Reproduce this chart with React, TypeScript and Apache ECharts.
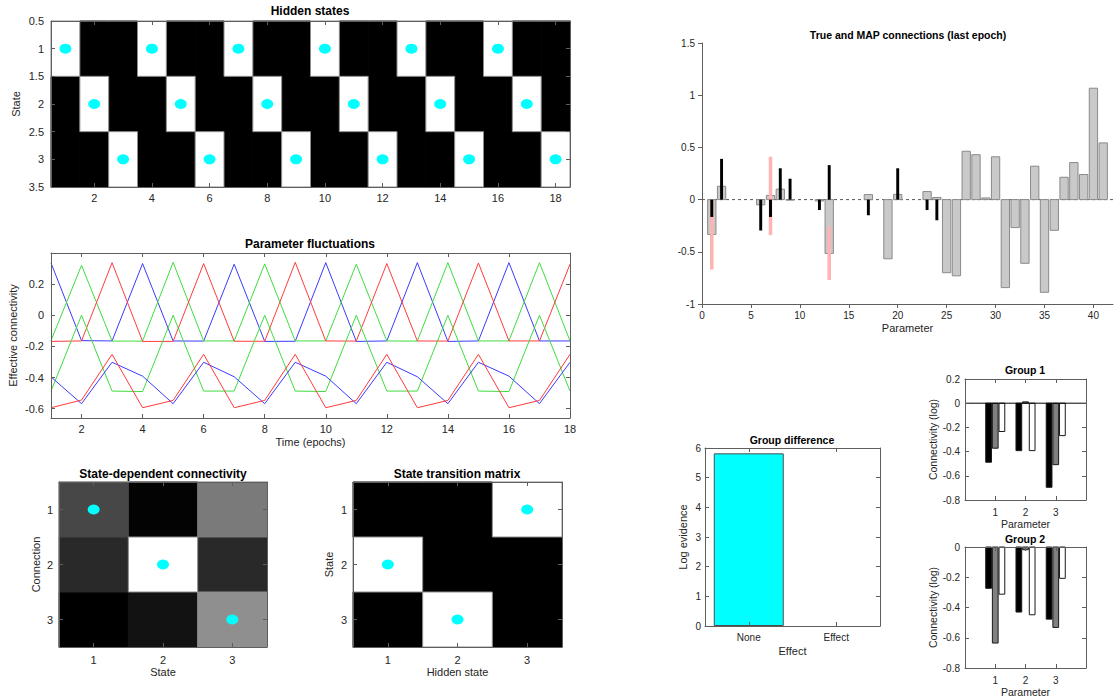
import React, { useEffect, useRef } from 'react';
import * as echarts from 'echarts';

const FONT = '"Liberation Sans", Arial, Helvetica, sans-serif';
const AXIS = '#5e5e5e';
const TXT = '#262626';

// ---------- Hidden states ----------
const epochs = [1, 2, 3, 4, 5, 6, 7, 8, 9, 10, 11, 12, 13, 14, 15, 16, 17, 18];
const hiddenState = [1, 2, 3, 1, 2, 3, 1, 2, 3, 1, 2, 3, 1, 2, 3, 1, 2, 3];
const stateTicks = [1, 2, 3];
const epochTicks = [2, 4, 6, 8, 10, 12, 14, 16, 18];

// ---------- Parameter fluctuations ----------
const upperBlue = [0.336, -0.163, -0.165, 0.332, -0.165, -0.166, 0.328, -0.168, -0.167, 0.338, -0.168, -0.165, 0.338, -0.168, -0.165, 0.338, -0.165, -0.165];
const upperGreen = [-0.163, 0.321, -0.166, -0.166, 0.34, -0.165, -0.165, 0.33, -0.165, -0.165, 0.328, -0.165, -0.166, 0.338, -0.165, -0.165, 0.338, -0.165];
const upperRed = [-0.168, -0.165, 0.338, -0.168, -0.168, 0.332, -0.167, -0.167, 0.34, -0.165, -0.166, 0.332, -0.165, -0.166, 0.336, -0.165, -0.165, 0.328];
const lowerRed = [-0.594, -0.545, -0.251, -0.594, -0.547, -0.251, -0.594, -0.547, -0.251, -0.594, -0.547, -0.251, -0.594, -0.547, -0.251, -0.594, -0.547, -0.251];
const lowerBlue = [-0.396, -0.568, -0.302, -0.391, -0.568, -0.302, -0.395, -0.568, -0.302, -0.391, -0.568, -0.302, -0.395, -0.568, -0.302, -0.391, -0.568, -0.302];
const lowerGreen = [-0.487, 0.0, -0.487, -0.49, 0.0, -0.487, -0.487, 0.0, -0.487, -0.49, 0.0, -0.487, -0.487, 0.0, -0.487, -0.49, 0.0, -0.487];
const fluctTicks = [-0.6, -0.4, -0.2, 0, 0.2];

// ---------- State-dependent connectivity (rows: connection, cols: state), grey level 0..1 ----------
const stateConnectivity = [
  [0.28, 0.01, 0.48],
  [0.16, 1.0, 0.16],
  [0.0, 0.07, 0.56],
];
const connectivityDots = [[1, 1], [2, 2], [3, 3]]; // [state, connection]

// ---------- State transition matrix (rows: state, cols: hidden state) ----------
const transitionMatrix = [
  [0, 0, 1],
  [1, 0, 0],
  [0, 1, 0],
];

// ---------- True and MAP connections ----------
const parameters = Array.from({ length: 41 }, (_, i) => i + 1);
const mapEstimates = [
  -0.334, 0.128, 0, 0, 0, -0.05, 0.04, 0.1, -0.005, 0,
  0, -0.013, -0.516, 0, 0, 0, 0.048, 0, -0.567, 0.05,
  0, 0, 0.077, 0.02, -0.7, -0.73, 0.463, 0.43, 0.016, 0.41,
  -0.843, -0.268, -0.61, 0.32, -0.888, -0.294, 0.214, 0.355, 0.24, 1.067,
  0.543,
];
const trueValues = [
  -0.166, 0.39, 0, 0, 0, -0.296, -0.166, 0.3, 0.2, 0,
  0, -0.1, 0.33, 0, 0, 0, -0.15, 0, 0, 0.3,
  0, 0, -0.1, -0.198, 0, 0, 0, 0, 0, 0,
  0, 0, 0, 0, 0, 0, 0, 0, 0, 0,
  0,
];
const ciParams = [1, 7, 13];
const ciLower = [-0.67, -0.34, -0.77];
const ciUpper = [0.0, 0.41, -0.255];
const mapXTicks = [0, 5, 10, 15, 20, 25, 30, 35, 40];

// ---------- Group difference ----------
const effectCategories = ['None', 'Effect'];
const logEvidence = [5.82, 0];

// ---------- Groups ----------
const groupParams = [1, 2, 3];
const group1Black = [-0.488, -0.392, -0.695];
const group1Gray = [-0.372, 0.011, -0.508];
const group1White = [-0.234, -0.392, -0.268];
const group2Black = [-0.273, -0.43, -0.477];
const group2Gray = [-0.635, -0.018, -0.532];
const group2White = [-0.312, -0.448, -0.207];

function rectFrom(api: any, x0: number, y0: number, x1: number, y1: number) {
  const a = api.coord([x0, y0]);
  const b = api.coord([x1, y1]);
  return {
    x: Math.min(a[0], b[0]),
    y: Math.min(a[1], b[1]),
    width: Math.abs(b[0] - a[0]),
    height: Math.abs(b[1] - a[1]),
  };
}

function buildOption() {
  const grids: any[] = [];
  const xAxes: any[] = [];
  const yAxes: any[] = [];
  const series: any[] = [];

  function makeAxis(c: any, gridIndex: number, position: string, mirror: boolean, o: any) {
    const a: any = {
      gridIndex,
      position,
      type: c.type || 'value',
      z: 10,
      inverse: !!c.inverse,
      splitLine: { show: false },
      axisLine: { show: true, onZero: false, lineStyle: { color: AXIS, width: 1 } },
      axisTick: { show: true, inside: !o.outward, length: 4, lineStyle: { color: AXIS } },
      axisLabel: {
        show: !mirror,
        color: TXT,
        fontFamily: FONT,
        fontSize: o.fontSize,
        margin: c.margin ?? 6,
      },
    };
    if (c.min !== undefined) a.min = c.min;
    if (c.max !== undefined) a.max = c.max;
    if (c.type === 'category') {
      a.data = c.data;
      a.axisTick.alignWithLabel = true;
    }
    if (c.interval !== undefined) a.interval = c.interval;
    if (c.ticks) {
      a.axisTick.customValues = c.ticks;
      a.axisLabel.customValues = c.ticks;
    }
    if (!mirror && c.name) {
      a.name = c.name;
      a.nameLocation = 'middle';
      a.nameGap = c.nameGap;
      a.nameTextStyle = { fontFamily: FONT, fontSize: o.nameSize || o.fontSize, color: TXT };
    }
    return a;
  }

  function addPanel(box: number[], xc: any, yc: any, o: any) {
    const gi = grids.length;
    grids.push({
      left: box[0], top: box[1], width: box[2], height: box[3],
      containLabel: false, outerBoundsMode: 'none', show: false,
    });
    const xi = xAxes.length;
    xAxes.push(makeAxis(xc, gi, 'bottom', false, o));
    const yi = yAxes.length;
    yAxes.push(makeAxis(yc, gi, 'left', false, o));
    if (o.box) {
      xAxes.push(makeAxis(xc, gi, 'top', true, o));
      yAxes.push(makeAxis(yc, gi, 'right', true, o));
    }
    return [xi, yi];
  }

  function cellSeries(xi: number, yi: number, data: number[][]) {
    const sorted = data.slice().sort((a, b) => a[2] - b[2]);
    return {
      type: 'custom', xAxisIndex: xi, yAxisIndex: yi, data: sorted, z: 2, silent: true,
      renderItem: (_p: any, api: any) => {
        const x = api.value(0), y = api.value(1), v = api.value(2);
        const g = Math.round(v * 255);
        const fill = `rgb(${g},${g},${g})`;
        return {
          type: 'rect',
          shape: rectFrom(api, x - 0.5, y - 0.5, x + 0.5, y + 0.5),
          style: { fill, stroke: v > 0.7 ? '#8c8c8c' : fill, lineWidth: 1 },
        };
      },
    };
  }

  function dotSeries(xi: number, yi: number, data: number[][]) {
    return {
      type: 'scatter', xAxisIndex: xi, yAxisIndex: yi, data, z: 5, silent: true,
      symbol: 'circle', symbolSize: [12, 10],
      itemStyle: { color: '#00ffff', opacity: 1 },
    };
  }

  function barSeries(xi: number, yi: number, data: number[][], width: number, offset: number, fill: string, stroke: string | null, z: number) {
    return {
      type: 'custom', xAxisIndex: xi, yAxisIndex: yi, data, z, silent: true,
      renderItem: (_p: any, api: any) => {
        const x = api.value(0) + offset, lo = api.value(1), hi = api.value(2);
        if (lo === hi) return { type: 'group', children: [] };
        return {
          type: 'rect',
          shape: rectFrom(api, x - width / 2, lo, x + width / 2, hi),
          style: { fill, stroke: stroke || 'none', lineWidth: 1 },
        };
      },
    };
  }

  // Panel A: Hidden states
  {
    const [xi, yi] = addPanel([51, 21, 519, 166],
      { min: 0.5, max: 18.5, ticks: epochTicks, margin: 5 },
      { min: 0.5, max: 3.5, interval: 0.5, inverse: true, name: 'State', nameGap: 30, margin: 7 },
      { box: true, fontSize: 11 });
    const cells: number[][] = [];
    epochs.forEach((t, i) => stateTicks.forEach((k) => cells.push([t, k, hiddenState[i] === k ? 1 : 0])));
    series.push(cellSeries(xi, yi, cells));
    series.push(dotSeries(xi, yi, epochs.map((t, i) => [t, hiddenState[i]])));
  }

  // Panel B: Parameter fluctuations
  {
    const [xi, yi] = addPanel([51, 253, 519, 165],
      { min: 1, max: 18, ticks: epochTicks, name: 'Time (epochs)', nameGap: 18, margin: 5 },
      { min: -0.66, max: 0.4, ticks: fluctTicks, name: 'Effective connectivity', nameGap: 33, margin: 7 },
      { box: true, fontSize: 11 });
    const lines: [number[], string][] = [
      [upperBlue, '#3b3bff'], [upperGreen, '#3fdc3f'], [upperRed, '#ff3b3b'],
      [lowerGreen, '#3fdc3f'], [lowerBlue, '#3b3bff'], [lowerRed, '#ff3b3b'],
    ];
    lines.forEach(([arr, color]) => {
      series.push({
        type: 'line', xAxisIndex: xi, yAxisIndex: yi, silent: true,
        data: epochs.map((t, i) => [t, arr[i]]),
        symbol: 'none', showSymbol: false,
        lineStyle: { color, width: 1 }, z: 3,
      });
    });
  }

  // Panel C: State-dependent connectivity
  {
    const [xi, yi] = addPanel([59, 482, 208, 165],
      { min: 0.5, max: 3.5, ticks: stateTicks, name: 'State', nameGap: 19, margin: 7 },
      { min: 0.5, max: 3.5, ticks: stateTicks, inverse: true, name: 'Connection', nameGap: 18, margin: 6 },
      { box: true, fontSize: 11 });
    const cells: number[][] = [];
    stateConnectivity.forEach((row, r) => row.forEach((v, c) => cells.push([c + 1, r + 1, v])));
    series.push(cellSeries(xi, yi, cells));
    series.push(dotSeries(xi, yi, connectivityDots));
  }

  // Panel D: State transition matrix
  {
    const [xi, yi] = addPanel([353, 482, 209, 165],
      { min: 0.5, max: 3.5, ticks: stateTicks, name: 'Hidden state', nameGap: 19, margin: 7 },
      { min: 0.5, max: 3.5, ticks: stateTicks, inverse: true, name: 'State', nameGap: 19, margin: 6 },
      { box: true, fontSize: 11 });
    const cells: number[][] = [];
    const dots: number[][] = [];
    transitionMatrix.forEach((row, r) => row.forEach((v, c) => {
      cells.push([c + 1, r + 1, v]);
      if (v > 0.5) dots.push([c + 1, r + 1]);
    }));
    series.push(cellSeries(xi, yi, cells));
    series.push(dotSeries(xi, yi, dots));
  }

  // Panel E: True and MAP connections
  {
    const [xi, yi] = addPanel([702, 43, 411, 261],
      { min: 0, max: 42, ticks: mapXTicks, name: 'Parameter', nameGap: 18, margin: 6 },
      { min: -1, max: 1.5, interval: 0.5, margin: 7 },
      { box: false, outward: true, fontSize: 10, nameSize: 11 });
    series.push({
      type: 'line', xAxisIndex: xi, yAxisIndex: yi, silent: true,
      data: [[0, 0], [42, 0]], symbol: 'none',
      lineStyle: { color: '#555', width: 1, type: [3, 3] }, z: 1,
    });
    series.push(barSeries(xi, yi, parameters.map((p, i) => [p, 0, mapEstimates[i]]), 0.85, 0, '#c9c9c9', '#8a8a8a', 2));
    series.push(barSeries(xi, yi, ciParams.map((p, i) => [p, ciLower[i], ciUpper[i]]), 0.36, 0, '#ffb3b3', null, 3));
    series.push(barSeries(xi, yi, parameters.map((p, i) => [p, 0, trueValues[i]]), 0.3, 0, '#000000', null, 4));
  }

  // Panel F: Group difference
  {
    const [xi, yi] = addPanel([705, 448, 175, 178],
      { type: 'category', data: effectCategories, name: 'Effect', nameGap: 19, margin: 6 },
      { min: 0, max: 6, interval: 1, name: 'Log evidence', nameGap: 17, margin: 4 },
      { box: true, fontSize: 10, nameSize: 11 });
    series.push({
      type: 'bar', xAxisIndex: xi, yAxisIndex: yi, silent: true,
      data: logEvidence.map((v) => (v === 0 ? '-' : v)), barWidth: '80%',
      itemStyle: { color: '#00ffff', borderColor: '#4d4d4d', borderWidth: 1 }, z: 2,
    });
  }

  // Panels G, H: Group 1 / Group 2
  const groupPanels: [number[], number, number, number[], number[], number[], boolean][] = [
    [[965, 379, 121, 121], -0.8, 0.2, group1Black, group1Gray, group1White, true],
    [[965, 547, 121, 121], -0.8, 0, group2Black, group2Gray, group2White, false],
  ];
  groupPanels.forEach(([box, ymin, ymax, blk, gry, wht, zeroLine]) => {
    const [xi, yi] = addPanel(box,
      { min: 0, max: 4, ticks: groupParams, name: 'Parameter', nameGap: 18, margin: 7 },
      { min: ymin, max: ymax, interval: 0.2, name: 'Connectivity (log)', nameGap: 23, margin: 5 },
      { box: true, fontSize: 10, nameSize: 10.5 });
    series.push(barSeries(xi, yi, groupParams.map((p, i) => [p, 0, blk[i]]), 0.19, -0.22, '#000000', '#1a1a1a', 2));
    series.push(barSeries(xi, yi, groupParams.map((p, i) => [p, 0, gry[i]]), 0.19, 0, '#808080', '#1a1a1a', 2));
    series.push(barSeries(xi, yi, groupParams.map((p, i) => [p, 0, wht[i]]), 0.19, 0.22, '#ffffff', '#1a1a1a', 2));
    if (zeroLine) {
      series.push({
        type: 'line', xAxisIndex: xi, yAxisIndex: yi, silent: true,
        data: [[0, 0], [4, 0]], symbol: 'none',
        lineStyle: { color: '#000', width: 1 }, z: 3,
      });
    }
  });

  const titles = [
    { text: 'Hidden states', x: 310, y: 11, size: 12 },
    { text: 'Parameter fluctuations', x: 310, y: 244, size: 12 },
    { text: 'State-dependent connectivity', x: 163, y: 474, size: 12 },
    { text: 'State transition matrix', x: 457, y: 474, size: 12 },
    { text: 'True and MAP connections (last epoch)', x: 908, y: 35, size: 10.5 },
    { text: 'Group difference', x: 792, y: 440, size: 10.5 },
    { text: 'Group 1', x: 1025, y: 370, size: 10.5 },
    { text: 'Group 2', x: 1025, y: 539, size: 10.5 },
  ];

  const graphic = titles.map((t) => ({
    type: 'text',
    x: t.x,
    y: t.y,
    z: 100,
    silent: true,
    style: {
      text: t.text,
      font: `bold ${t.size}px ${FONT}`,
      fill: '#000',
      align: 'center',
      verticalAlign: 'middle',
      textAlign: 'center',
      textVerticalAlign: 'middle',
    },
  }));

  return {
    animation: false,
    backgroundColor: '#ffffff',
    grid: grids,
    xAxis: xAxes,
    yAxis: yAxes,
    series,
    graphic,
  };
}

export default function App() {
  const ref = useRef<HTMLDivElement>(null);
  useEffect(() => {
    document.body.style.margin = '0';
    const chart = echarts.init(ref.current as HTMLDivElement, null, { renderer: 'svg' });
    chart.setOption(buildOption() as any);
    return () => chart.dispose();
  }, []);
  return <div ref={ref} style={{ width: 1120, height: 700, background: '#fff' }} />;
}
